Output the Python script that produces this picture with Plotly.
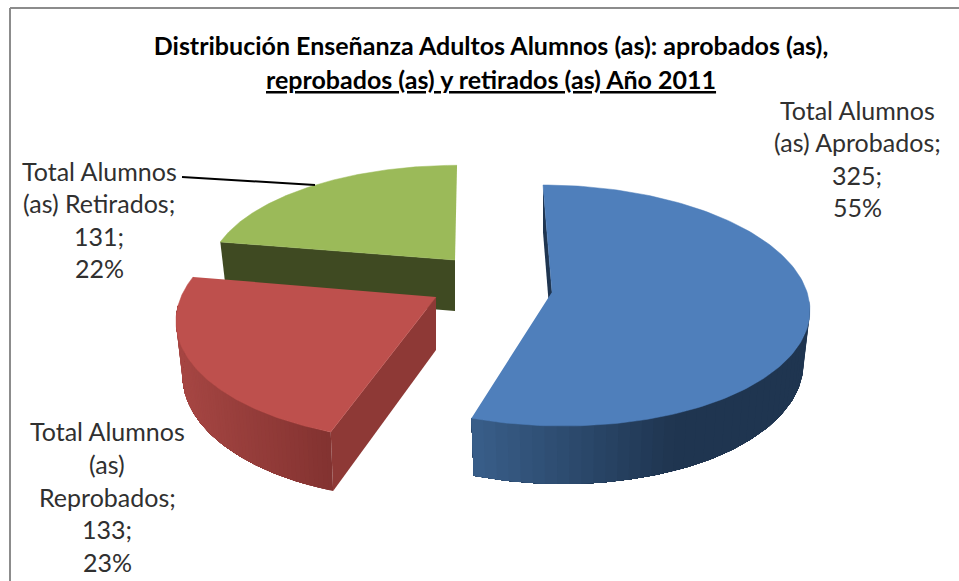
import numpy as np
import plotly.graph_objects as go

# ---- data ----
categories = ["Total Alumnos (as) Aprobados", "Total Alumnos (as) Reprobados", "Total Alumnos (as) Retirados"]
values = [325, 133, 131]
label_heads = [["Total Alumnos", "(as) Aprobados;"],
               ["Total Alumnos", "(as)", "Reprobados;"],
               ["Total Alumnos", "(as) Retirados;"]]
title_lines = ["Distribución Enseñanza Adultos Alumnos (as): aprobados (as),",
               "reprobados (as) y retirados (as) Año 2011"]

# ---- styling / geometry of the exploded, tilted pie (pixel-like axes) ----
top_colors = ["#4F7FBB", "#BE504D", "#9BBA59"]
side_colors = ["#1F3550", "#8E3936", "#3F4A22"]
wall_ramp = [((58, 96, 140), (31, 53, 80), 470, 680), ((166, 70, 67), (130, 50, 48), 180, 335), None]
#         cx   cy   R    Ry   shear  k     depth
proj = [(552, 292, 255, 119, 10.0, 0.112, 52),
        (436, 297, 255, 120, -7.6, 0.166, 53),
        (455, 260, 244, 107, -2.3, 0.130, 51)]
label_pos = [(857, [110, 142, 175, 207]),
             (107, [431, 464, 497, 529, 562]),
             (99, [171, 203, 236, 268])]
FONT = "Lato"


def project(slice_i, theta, bottom=False):
    cx, cy, R, Ry, sx, k, d = proj[slice_i]
    u, v = np.sin(theta), -np.cos(theta)
    if bottom:
        cy, R, Ry = cy + d, R * 0.975, Ry * 1.045
    f = 1.0 / (1.0 - k * v)
    return cx + (R * u + sx * v) * f, cy + Ry * v * f, cx, cy


total = sum(values)
edges = np.concatenate([[0], np.cumsum(values)]) / total * 2 * np.pi
fig = go.Figure()


def poly(xs, ys, color, width=0.0):
    fig.add_trace(go.Scatter(x=list(xs), y=list(ys), mode="lines", fill="toself", fillcolor=color,
                             line=dict(color=color, width=width), hoverinfo="skip", showlegend=False))


def mix(a, b, t):
    t = min(max(t, 0), 1)
    return "rgb(%d,%d,%d)" % tuple(round(a[j] + (b[j] - a[j]) * t) for j in range(3))


def draw_slice(i):
    th = np.linspace(edges[i], edges[i + 1], 161)
    tx, ty, cx, cy = project(i, th)
    bx, by, bcx, bcy = project(i, th, True)
    # radial wall along the slice's first edge
    poly([cx, tx[0], bx[0], bcx], [cy, ty[0], by[0], bcy], side_colors[i])
    if wall_ramp[i] is not None:
        a, b, xa, xb = wall_ramp[i]
        keep = np.where(-np.cos(th) >= 0.06)[0]
        tx2, ty2, bx2, by2 = tx[keep], ty[keep], bx[keep], by[keep]
        # painter's order: each band runs to the end of the arc, so no seams appear
        order = range(0, len(keep) - 1, 2)
        if i == 0:   # the arc runs right-to-left: paint from the right
            pass
        for s in order:
            xs = np.concatenate([tx2[s:], bx2[s:][::-1]])
            ys = np.concatenate([ty2[s:], by2[s:][::-1]])
            poly(xs, ys, mix(a, b, (tx2[s] - xa) / (xb - xa)))
    poly(np.concatenate([[cx], tx]), np.concatenate([[cy], ty]), top_colors[i], 0.5)


# green is furthest back, then red, then blue
draw_slice(2)
draw_slice(1)
draw_slice(0)

# leader line of the "Retirados" label
fig.add_trace(go.Scatter(x=[182, 315], y=[177, 185], mode="lines", line=dict(color="#000000", width=2),
                         hoverinfo="skip", showlegend=False))

annotations = []
for i, head in enumerate(label_heads):
    lines = head + [f"{values[i]};", f"{round(values[i] / total * 100)}%"]
    x0, ys = label_pos[i]
    for text, y in zip(lines, ys):
        annotations.append(dict(x=x0, y=y, text=text, showarrow=False, xanchor="center", yanchor="middle",
                                font=dict(family=FONT, size=25, color="#303030")))
annotations.append(dict(x=491, y=79, text=f"<b><u>{title_lines[1]}</u></b>", showarrow=False,
                        xanchor="center", yanchor="middle", font=dict(family=FONT, size=25, color="#000000")))

fig.update_layout(
    width=959, height=581, autosize=False,
    margin=dict(l=0, r=0, t=0, b=0),
    paper_bgcolor="#FFFFFF", plot_bgcolor="#FFFFFF",
    showlegend=False,
    title=dict(text=f"<b>{title_lines[0]}</b>", x=491 / 959, y=1 - 46 / 581, xanchor="center", yanchor="middle",
               font=dict(family=FONT, size=25, color="#000000")),
    xaxis=dict(range=[0, 959], visible=False, fixedrange=True),
    yaxis=dict(range=[581, 0], visible=False, fixedrange=True),
    annotations=annotations,
    shapes=[dict(type="line", x0=10, x1=959, y0=8, y1=8, line=dict(color="#8C8C8C", width=2)),
            dict(type="line", x0=10, x1=10, y0=8, y1=581, line=dict(color="#8C8C8C", width=2))],
)
fig.write_html("out.html", config={"displayModeBar": False},
               post_script="document.body.style.margin='0';document.body.style.overflow='hidden';")
